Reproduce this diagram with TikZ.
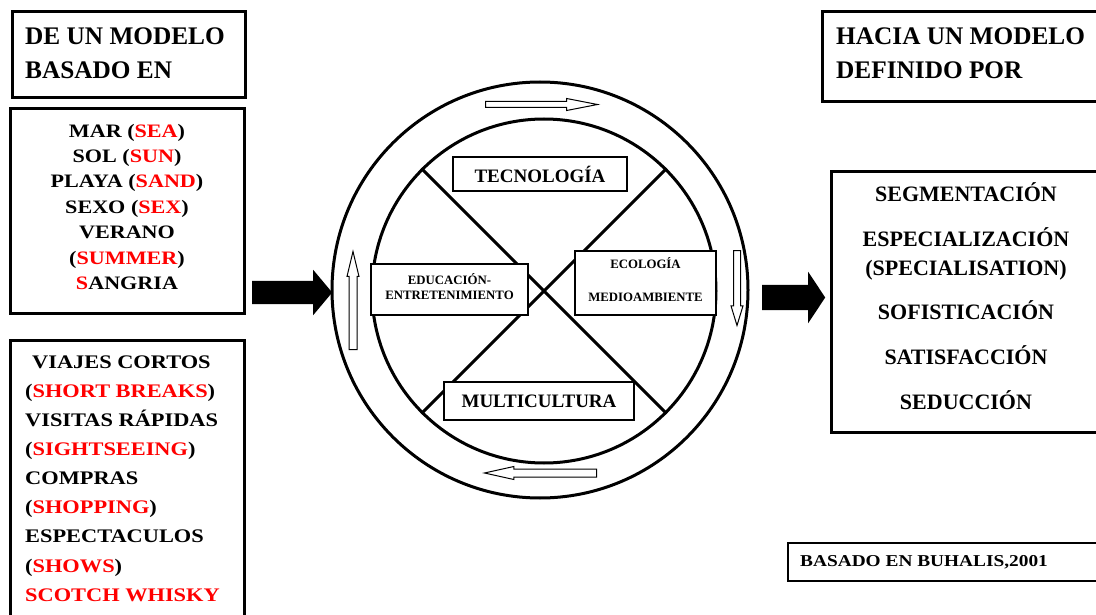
\documentclass[tikz,border=0pt]{standalone}
\usepackage{fontspec}
\setmainfont{Liberation Serif}
\newfontfamily\widefont{Liberation Serif}[FakeStretch=1.165]
\usetikzlibrary{shapes.arrows}
\definecolor{engred}{RGB}{255,0,0}
\newcommand{\eng}[1]{\textcolor{engred}{#1}}
\begin{document}
\begin{tikzpicture}[x=1pt,y=-1pt,
  frame/.style={draw, line width=3pt, inner sep=0pt},
  thinframe/.style={draw, line width=1.3pt, inner sep=0pt},
  tag/.style={draw, fill=white, line width=1.3pt, inner sep=0pt},
  heading/.style={font=\bfseries\fontsize{25.3}{34}\selectfont, align=left, inner sep=0pt, anchor=west},
  oldlist/.style={font=\widefont\bfseries\fontsize{19}{25.5}\selectfont, align=center, inner sep=0pt},
  triplist/.style={font=\widefont\bfseries\fontsize{19.2}{29.1}\selectfont, align=left, inner sep=0pt, anchor=west},
  newlist/.style={font=\bfseries\fontsize{22}{29}\selectfont, align=center, inner sep=0pt},
  bigtag/.style={font=\bfseries\fontsize{19}{22}\selectfont},
  smalltag/.style={font=\bfseries\fontsize{12.8}{15}\selectfont, align=center, inner sep=0pt},
  ring/.style={circle, draw, line width=3pt, inner sep=0pt},
  spoke/.style={line width=3pt},
  hollow/.style={single arrow, draw, line width=1pt, fill=white, minimum width=0pt},
  solid arrow/.style={single arrow, fill=black, minimum width=0pt}
]
\useasboundingbox (0,0) rectangle (1096,615);

% ---- left column: the old model ----
\node[frame, minimum width=233pt, minimum height=86pt] (fromframe) at (128.5,55) {};
\node[heading] (fromtitle) at (25,53.5) {DE UN MODELO\\BASADO EN};

\node[frame, minimum width=234pt, minimum height=204pt] (sunframe) at (127,211) {};
\node[oldlist] (sunlist) at (127,207) {%
  MAR (\eng{SEA})\\
  SOL (\eng{SUN})\\
  PLAYA (\eng{SAND})\\
  SEXO (\eng{SEX})\\
  VERANO\\
  (\eng{SUMMER})\\
  \eng{S}ANGRIA};

\node[frame, minimum width=234pt, minimum height=290pt] (cityframe) at (127,485) {};
\node[triplist] (citylist) at (25,478.5) {%
  \hspace*{7pt}VIAJES CORTOS\\
  (\eng{SHORT BREAKS})\\
  VISITAS RÁPIDAS\\
  (\eng{SIGHTSEEING})\\
  COMPRAS\\
  (\eng{SHOPPING})\\
  ESPECTACULOS\\
  (\eng{SHOWS})\\
  \eng{SCOTCH WHISKY}};

% ---- central wheel ----
\node[ring, minimum size=416pt] (outer) at (540,290) {};
\node[ring, minimum size=344pt] (inner) at (544,291) {};
\draw[spoke] (inner.135) -- (inner.-45);
\draw[spoke] (inner.45) -- (inner.225);

\node[tag, bigtag, minimum width=174pt, minimum height=34pt] (tec) at (540,174) {TECNOLOGÍA};
\node[tag, bigtag, minimum width=190pt, minimum height=38pt] (multi) at (539,401) {MULTICULTURA};
\node[tag, minimum width=157pt, minimum height=51pt] (edubox) at (449.5,289.5) {};
\node[smalltag] (edu) at (449.5,286.5) {EDUCACIÓN-\\ENTRETENIMIENTO};
\node[tag, minimum width=141pt, minimum height=64pt] (ecobox) at (645.5,283) {};
\node[smalltag, font=\bfseries\fontsize{12.8}{33}\selectfont] (eco) at (645.5,279.5) {ECOLOGÍA\\MEDIOAMBIENTE};

% rotation arrows between the two rings
\node[hollow, anchor=tail, minimum height=112pt, inner sep=2.5pt,
      single arrow head extend=3pt, single arrow tip angle=22] (turntop) at (485,104.5) {};
\node[hollow, anchor=tail, shape border rotate=270, minimum height=75pt, inner sep=3pt,
      single arrow head extend=2.5pt, single arrow tip angle=34] (turnright) at (737,250) {};
\node[hollow, anchor=tail, shape border rotate=180, minimum height=112pt, inner sep=3.5pt,
      single arrow head extend=2.5pt, single arrow tip angle=25] (turnbottom) at (597,473) {};
\node[hollow, anchor=tail, shape border rotate=90, minimum height=98pt, inner sep=3.5pt,
      single arrow head extend=2pt, single arrow tip angle=27] (turnleft) at (353,350) {};

% transition arrows
\node[solid arrow, anchor=tail, minimum height=80pt, inner sep=11.5pt,
      single arrow head extend=11pt, single arrow tip angle=100] (intowheel) at (252,292.5) {};
\node[solid arrow, anchor=tail, minimum height=63pt, inner sep=12.5pt,
      single arrow head extend=13pt, single arrow tip angle=113] (outofwheel) at (762,297.5) {};

% ---- right column: the new model ----
\node[frame, minimum width=278pt, minimum height=90pt] (toframe) at (961,57) {};
\node[heading] (totitle) at (836,53.5) {HACIA UN MODELO\\DEFINIDO POR};

\node[frame, minimum width=269pt, minimum height=260pt] (sframe) at (965.5,302) {};
\node[newlist] (slist) at (966,296) {%
  SEGMENTACIÓN\\[16pt]
  ESPECIALIZACIÓN\\
  (SPECIALISATION)\\[15pt]
  SOFISTICACIÓN\\[16pt]
  SATISFACCIÓN\\[16pt]
  SEDUCCIÓN};

\node[thinframe, minimum width=312pt, minimum height=38pt] (srcframe) at (944,562) {};
\node[inner sep=0pt, anchor=west, font=\widefont\bfseries\fontsize{16.6}{20}\selectfont] (src) at (800,562) {BASADO EN BUHALIS,2001};
\end{tikzpicture}
\end{document}
